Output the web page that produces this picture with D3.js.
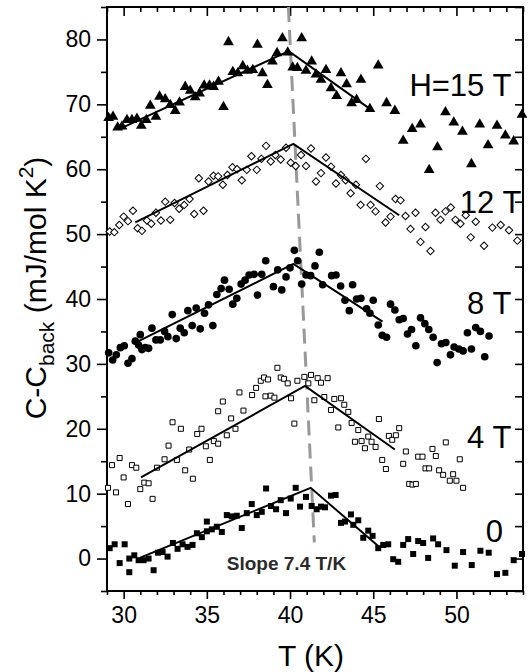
<!DOCTYPE html>
<html>
<head>
<meta charset="utf-8">
<script src="https://cdn.jsdelivr.net/npm/d3@7"></script>
<style>
	body { margin: 0; background: #fff; }
	svg { display: block; font-family: "Liberation Sans", Arial, Helvetica, sans-serif; }
</style>
</head>
<body>
<svg id="chart" width="529" height="672"></svg>
<script>
// [T (K), C-Cback (mJ/mol K^2)]
const h15 = [[29.1, 67.9], [29.36, 68.1], [29.64, 66.45], [29.9, 66.6], [30.2, 67.6], [30.5, 67.6], [30.8, 67.8], [31.06, 66.7], [31.36, 67.6], [31.6, 69.8],
	[31.94, 68.1], [32.16, 71.2], [32.5, 70.8], [32.8, 69.9], [33.1, 69.0], [33.36, 70.3], [33.7, 72.7], [34.0, 72.1], [34.3, 71.1], [34.56, 71.7],
	[34.84, 72.9], [35.16, 72.9], [35.4, 72.7], [35.7, 73.5], [36.0, 69.6], [36.3, 79.6], [36.56, 75.0], [36.86, 74.8], [37.16, 75.9], [37.44, 75.2],
	[37.76, 75.3], [38.04, 79.2], [38.34, 74.8], [38.64, 73.0], [38.94, 76.6], [39.22, 77.9], [39.54, 80.2], [39.86, 78.0], [40.16, 75.7], [40.44, 75.6],
	[40.7, 80.2], [40.96, 75.2], [41.3, 76.6], [41.56, 74.6], [41.86, 73.8], [42.16, 75.3], [42.46, 72.5], [42.8, 71.3], [43.06, 74.8], [43.4, 73.1],
	[43.7, 70.2], [44.0, 70.7], [44.26, 73.8], [44.8, 69.3], [45.3, 76.0], [45.8, 70.2], [46.3, 69.0], [46.8, 64.4], [47.34, 66.2], [47.84, 66.9],
	[48.36, 59.9], [48.86, 63.4], [49.34, 68.8], [49.84, 67.2], [50.36, 65.8], [50.9, 60.8], [51.4, 66.9], [51.9, 63.7], [52.44, 66.7], [52.94, 65.2],
	[53.44, 64.3], [53.94, 68.4]];

const h12 = [[29.16, 50.4], [29.44, 50.3], [29.74, 51.4], [30.0, 52.7], [30.26, 52.0], [30.56, 53.6], [30.84, 50.9], [31.1, 50.5], [31.4, 52.1], [31.66, 51.6],
	[31.94, 53.3], [32.24, 52.1], [32.5, 55.0], [32.8, 52.2], [33.06, 54.8], [33.34, 53.9], [33.64, 54.5], [33.96, 55.4], [34.24, 53.1], [34.52, 58.6],
	[34.8, 53.6], [35.1, 58.1], [35.4, 59.0], [35.68, 58.9], [35.96, 57.6], [36.24, 59.1], [36.54, 60.3], [36.82, 60.0], [37.1, 58.3], [37.4, 59.9],
	[37.68, 62.0], [38.0, 59.9], [38.28, 61.6], [38.56, 63.6], [38.84, 61.2], [39.12, 62.2], [39.44, 61.5], [39.76, 63.3], [40.04, 61.0], [40.34, 60.5],
	[40.66, 62.2], [40.96, 60.5], [41.26, 63.2], [41.56, 58.1], [41.86, 59.4], [42.16, 61.8], [42.46, 60.4], [42.76, 57.8], [43.06, 59.1], [43.34, 58.3],
	[43.64, 56.3], [43.96, 57.6], [44.24, 54.5], [44.56, 61.6], [44.84, 54.5], [45.14, 53.5], [45.4, 57.4], [45.74, 51.8], [46.04, 52.7], [46.34, 55.4],
	[46.64, 55.2], [46.94, 52.8], [47.24, 50.8], [47.54, 53.3], [47.84, 48.8], [48.14, 51.1], [48.44, 47.4], [48.74, 53.3], [49.04, 52.2], [49.34, 53.5],
	[49.66, 54.1], [49.94, 52.2], [50.24, 51.6], [50.56, 52.9], [50.86, 49.5], [51.16, 51.9], [51.66, 48.2], [52.16, 51.0], [52.66, 51.4], [53.16, 50.6],
	[53.66, 49.0]];

const h8 = [[29.1, 31.7], [29.34, 30.6], [29.56, 31.4], [29.8, 32.5], [30.04, 32.8], [30.26, 30.1], [30.5, 30.8], [30.7, 33.5], [30.9, 32.9], [31.0, 34.5],
	[31.1, 32.2], [31.3, 32.5], [31.5, 32.4], [31.7, 35.5], [31.94, 33.7], [32.2, 33.7], [32.46, 35.0], [32.66, 34.2], [32.92, 37.6], [33.16, 33.9],
	[33.4, 35.5], [33.64, 34.8], [33.86, 38.2], [34.12, 35.9], [34.36, 38.6], [34.6, 35.4], [34.86, 37.8], [35.1, 39.1], [35.36, 35.9], [35.6, 40.7],
	[35.86, 41.6], [36.06, 42.9], [36.34, 41.5], [36.56, 39.2], [36.8, 40.1], [37.06, 42.3], [37.3, 42.9], [37.54, 43.7], [37.84, 43.8], [38.04, 40.6],
	[38.3, 43.8], [38.54, 45.9], [39.0, 41.9], [39.26, 44.5], [39.5, 41.4], [39.76, 43.4], [40.0, 44.8], [40.26, 47.5], [40.46, 45.9], [40.7, 42.3],
	[40.96, 43.7], [41.24, 43.6], [41.5, 45.1], [41.76, 47.2], [41.96, 42.2], [42.5, 43.6], [42.76, 43.7], [43.04, 42.0], [43.3, 39.8], [43.56, 38.2],
	[43.76, 42.2], [44.0, 40.0], [44.26, 40.1], [44.6, 38.5], [44.8, 37.8], [45.0, 39.8], [45.3, 36.0], [45.54, 34.4], [45.8, 34.1], [46.04, 39.2],
	[46.3, 38.3], [46.56, 36.8], [46.8, 37.0], [47.06, 34.6], [47.3, 35.3], [47.56, 32.8], [47.84, 37.1], [48.1, 36.2], [48.34, 35.3], [48.6, 34.1],
	[48.84, 30.2], [49.1, 33.1], [49.36, 33.3], [49.64, 31.4], [49.86, 32.6], [50.14, 32.3], [50.4, 32.0], [50.66, 34.8], [50.9, 32.3], [51.16, 35.6],
	[51.44, 35.0], [51.7, 31.1], [51.96, 34.3]];

const h4 = [[29.06, 10.9], [29.3, 14.4], [29.54, 10.2], [29.76, 15.5], [30.0, 12.5], [30.26, 8.4], [30.5, 14.4], [30.76, 14.0], [31.0, 10.7], [31.24, 11.7],
	[31.5, 11.6], [31.74, 9.2], [32.0, 14.0], [32.46, 15.3], [32.7, 17.4], [32.94, 21.0], [33.2, 15.2], [33.44, 20.0], [33.7, 13.6], [33.94, 16.8],
	[34.16, 12.3], [34.42, 19.2], [34.68, 20.0], [34.94, 17.3], [35.18, 15.2], [35.42, 18.1], [35.68, 22.7], [35.68, 17.7], [35.96, 24.2], [36.2, 19.0],
	[36.46, 21.6], [36.72, 20.0], [36.96, 25.6], [37.2, 22.8], [37.72, 25.2], [37.96, 26.3], [38.24, 27.4], [38.44, 27.9], [38.52, 25.0], [38.68, 27.6],
	[38.84, 25.1], [39.06, 24.8], [39.24, 29.4], [39.44, 27.9], [39.64, 27.7], [39.86, 27.0], [40.06, 24.7], [40.26, 20.8], [40.44, 27.4], [40.86, 28.0],
	[41.1, 27.0], [41.26, 28.3], [41.46, 24.4], [41.66, 27.8], [41.86, 27.1], [42.06, 24.9], [42.26, 27.8], [42.46, 22.9], [42.66, 24.6], [42.9, 20.2],
	[43.06, 24.7], [43.26, 23.7], [43.5, 22.6], [43.7, 20.9], [43.9, 18.0], [44.1, 19.8], [44.3, 18.1], [44.5, 17.0], [44.7, 18.8], [44.9, 18.0],
	[45.14, 17.2], [45.34, 21.5], [45.54, 15.2], [45.76, 13.8], [45.94, 18.9], [46.14, 18.3], [46.36, 19.0], [46.56, 20.1], [46.8, 14.6], [46.96, 16.5],
	[47.16, 11.5], [47.36, 11.4], [47.56, 11.5], [47.7, 15.7], [47.96, 15.7], [48.14, 13.9], [48.36, 13.9], [48.56, 16.9], [48.76, 15.8], [48.96, 13.6],
	[49.2, 12.9], [49.36, 17.9], [49.6, 12.0], [49.8, 13.0], [50.0, 12.0], [50.2, 15.3], [50.4, 10.9]];

const h0 = [[29.16, 1.6], [29.46, 2.2], [29.76, -0.7], [30.06, 2.2], [30.34, -2.1], [30.34, 0.0], [30.64, 0.5], [30.9, -0.25], [31.2, -0.25], [31.5, 0.0],
	[31.8, -1.8], [32.06, 0.9], [32.34, 1.0], [32.64, 0.3], [32.96, 2.4], [33.24, 1.5], [33.54, 2.2], [33.84, 1.8], [34.14, 2.1], [34.4, 3.9],
	[34.7, 3.3], [35.0, 4.2], [35.0, 5.7], [35.3, 4.5], [35.6, 4.9], [35.9, 4.1], [36.2, 6.7], [36.5, 6.5], [36.8, 6.6], [37.1, 4.7],
	[37.4, 7.0], [37.7, 8.4], [38.0, 6.7], [38.3, 7.2], [38.56, 10.8], [38.86, 8.1], [39.16, 7.6], [39.44, 9.0], [39.76, 7.0], [40.04, 9.25],
	[40.34, 10.9], [40.6, 8.0], [40.96, 9.5], [41.3, 8.1], [41.6, 7.6], [41.86, 8.0], [42.1, 7.9], [42.46, 9.7], [42.74, 9.8], [43.06, 5.5],
	[43.3, 5.7], [43.66, 6.8], [43.8, 5.2], [44.1, 5.9], [44.4, 3.2], [44.7, 4.3], [44.96, 3.5], [45.3, 1.6], [45.6, 2.1], [45.9, 2.2],
	[46.2, -0.1], [46.5, -0.5], [46.8, 2.1], [47.1, 3.0], [47.4, 0.7], [47.7, 2.7], [48.0, 2.4], [48.3, 0.1], [48.6, 3.1], [48.9, 2.2],
	[49.4, 1.3], [49.9, -1.1], [50.4, 1.0], [50.92, -1.0], [51.44, 1.2], [51.94, 0.9], [52.44, -2.4], [52.94, -2.2], [53.44, -0.25], [53.94, 0.7]];

// piecewise linear fits: start, peak, end
const fit15 = [[29.83, 66.3], [39.92, 78.2], [44.8, 69.3]];
const fit12 = [[30.7, 51.8], [40.2, 63.9], [46.56, 52.9]];
const fit8 = [[30.9, 33.5], [40.2, 45.4], [45.56, 36.5]];
const fit4 = [[31.04, 12.5], [40.9, 26.6], [46.3, 16.8]];
const fit0 = [[31.0, 0.15], [41.24, 10.9], [45.4, 1.7]];

// peak line, slope 7.4 T/K
const peakLine = [[39.9, 85], [41.46, 2.5]];

const xMajorTicks = [30, 35, 40, 45, 50];
const yMajorTicks = [0, 10, 20, 30, 40, 50, 60, 70, 80];

const width = 529;
const height = 672;
const margin = { top: 7, right: 6, bottom: 81, left: 107 };

const svg = d3.select("#chart");

const x = d3.scaleLinear()
	.domain([29, 54])
	.range([margin.left, width - margin.right]);

const y = d3.scaleLinear()
	.domain([-5, 85])
	.range([height - margin.bottom, margin.top]);

const xMinor = d3.range(29, 55, 1).filter(d => xMajorTicks.indexOf(d) < 0);
const yMinor = d3.range(-5, 86, 5).filter(d => yMajorTicks.indexOf(d) < 0);

function styleAxis(g, fontSize) {
	g.select(".domain").remove();
	g.selectAll("line")
		.attr("stroke", "#000")
		.attr("stroke-width", 1.6);
	g.selectAll("text")
		.attr("fill", "#000")
		.style("font-size", fontSize + "px")
		.style("font-family", "'Liberation Sans', Arial, sans-serif");
}

/* bottom axis: ticks point out */
svg.append("g")
	.attr("transform", "translate(0," + y.range()[0] + ")")
	.call(d3.axisBottom(x).tickValues(xMajorTicks).tickSize(8).tickPadding(8).tickFormat(d3.format("d")))
	.call(g => styleAxis(g, 23));

svg.append("g")
	.attr("transform", "translate(0," + y.range()[0] + ")")
	.call(d3.axisBottom(x).tickValues(xMinor).tickSize(4).tickFormat(""))
	.call(g => styleAxis(g, 23));

/* top axis: ticks point in */
svg.append("g")
	.attr("transform", "translate(0," + y.range()[1] + ")")
	.call(d3.axisTop(x).tickValues(xMajorTicks).tickSize(-9).tickFormat(""))
	.call(g => styleAxis(g, 23));

svg.append("g")
	.attr("transform", "translate(0," + y.range()[1] + ")")
	.call(d3.axisTop(x).tickValues(xMinor).tickSize(-5).tickFormat(""))
	.call(g => styleAxis(g, 23));

/* left axis */
svg.append("g")
	.attr("transform", "translate(" + x.range()[0] + ",0)")
	.call(d3.axisLeft(y).tickValues(yMajorTicks).tickSize(10).tickPadding(6).tickFormat(d3.format("d")))
	.call(g => styleAxis(g, 23));

svg.append("g")
	.attr("transform", "translate(" + x.range()[0] + ",0)")
	.call(d3.axisLeft(y).tickValues(yMinor).tickSize(6).tickFormat(""))
	.call(g => styleAxis(g, 23));

/* right axis: ticks point in */
svg.append("g")
	.attr("transform", "translate(" + x.range()[1] + ",0)")
	.call(d3.axisRight(y).tickValues(d3.range(-5, 86, 5)).tickSize(-8).tickFormat(""))
	.call(g => styleAxis(g, 23));

// frame
svg.append("rect")
	.attr("x", x.range()[0])
	.attr("y", y.range()[1])
	.attr("width", x.range()[1] - x.range()[0])
	.attr("height", y.range()[0] - y.range()[1])
	.attr("fill", "none")
	.attr("stroke", "#000")
	.attr("stroke-width", 2);

const plot = svg.append("g");

// dashed peak line
plot.append("path")
	.datum(peakLine)
	.attr("d", d3.line().x(d => x(d[0])).y(d => y(d[1])))
	.attr("fill", "none")
	.attr("stroke", "#999")
	.attr("stroke-width", 3)
	.attr("stroke-dasharray", "15,8");

const series = [
	{ data: h15, symbol: d3.symbolTriangle, size: 50, fill: "#000", rotate: 0 },
	{ data: h12, symbol: d3.symbolSquare, size: 28, fill: "#fff", rotate: 45 },
	{ data: h8, symbol: d3.symbolCircle, size: 46, fill: "#000", rotate: 0 },
	{ data: h4, symbol: d3.symbolSquare, size: 25, fill: "#fff", rotate: 0 },
	{ data: h0, symbol: d3.symbolSquare, size: 36, fill: "#000", rotate: 0 }
];

series.forEach(s => {
	plot.append("g")
		.selectAll("path")
		.data(s.data)
		.enter()
		.append("path")
		.attr("d", d3.symbol().type(s.symbol).size(s.size))
		.attr("transform", d => "translate(" + x(d[0]) + "," + y(d[1]) + ") rotate(" + s.rotate + ")")
		.attr("fill", s.fill)
		.attr("stroke", "#000")
		.attr("stroke-width", s.fill == "#fff" ? 1 : 0);
});

[fit15, fit12, fit8, fit4, fit0].forEach(f => {
	plot.append("path")
		.datum(f)
		.attr("d", d3.line().x(d => x(d[0])).y(d => y(d[1])))
		.attr("fill", "none")
		.attr("stroke", "#000")
		.attr("stroke-width", 2);
});

// field labels
const fieldLabels = [
	{ text: "H=15 T", t: 53.3, c: 71.3 },
	{ text: "12 T", t: 53.9, c: 53.3 },
	{ text: "8 T", t: 53.3, c: 37.7 },
	{ text: "4 T", t: 53.3, c: 17.1 },
	{ text: "0", t: 52.8, c: 2.6 }
];

svg.selectAll(".field-label")
	.data(fieldLabels)
	.enter()
	.append("text")
	.attr("class", "field-label")
	.attr("x", d => x(d.t))
	.attr("y", d => y(d.c))
	.attr("text-anchor", "end")
	.style("font-size", "31px")
	.text(d => d.text);

svg.append("text")
	.attr("x", x(36.2))
	.attr("y", y(-1.8))
	.style("font-size", "19px")
	.style("font-weight", "bold")
	.attr("fill", "#2a2a2a")
	.text("Slope 7.4 T/K");

// axis titles
svg.append("text")
	.attr("x", 311)
	.attr("y", 666)
	.attr("text-anchor", "middle")
	.style("font-size", "30px")
	.text("T (K)");

const yTitle = svg.append("text")
	.attr("transform", "translate(46,288) rotate(-90)")
	.attr("text-anchor", "middle")
	.style("font-size", "30px");
yTitle.append("tspan").text("C-C");
yTitle.append("tspan").attr("dy", 8).style("font-size", "21px").text("back");
yTitle.append("tspan").attr("dy", -8).text(" (mJ/mol K");
yTitle.append("tspan").attr("dy", -13).style("font-size", "21px").text("2");
yTitle.append("tspan").attr("dy", 13).text(")");
</script>
</body>
</html>
